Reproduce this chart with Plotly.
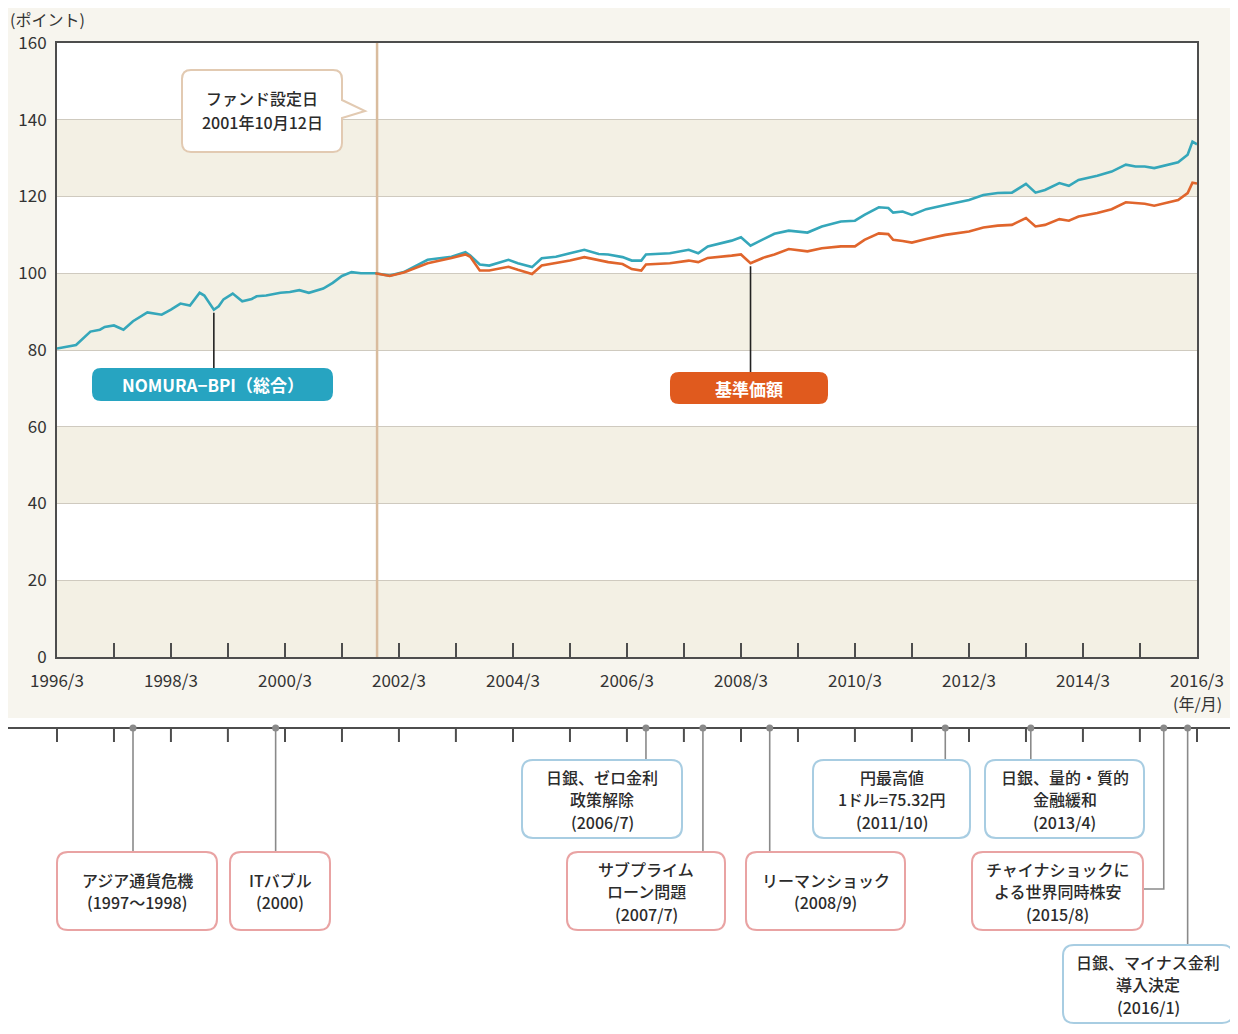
import plotly.graph_objects as go
import pandas as pd

# ---------------- data ----------------
bpi_dates = [
    "1996-03", "1996-06", "1996-07", "1996-10", "1996-12", "1997-01", "1997-03", "1997-05",
    "1997-07", "1997-10", "1998-01", "1998-03", "1998-05", "1998-07", "1998-09", "1998-10",
    "1998-12", "1999-01", "1999-02", "1999-04", "1999-06", "1999-08", "1999-09", "1999-11",
    "2000-02", "2000-04", "2000-06", "2000-08", "2000-11", "2001-01", "2001-03", "2001-05",
    "2001-07",
    "2001-10", "2002-01", "2002-04", "2002-09", "2003-02", "2003-05", "2003-06", "2003-08",
    "2003-10", "2004-02", "2004-04", "2004-07", "2004-09", "2004-12", "2005-03", "2005-06",
    "2005-09", "2005-11", "2006-02", "2006-04", "2006-06", "2006-07", "2006-12", "2007-04",
    "2007-06", "2007-08", "2008-01", "2008-03", "2008-05", "2008-08", "2008-10", "2009-01",
    "2009-05", "2009-08", "2009-12", "2010-03", "2010-05", "2010-08", "2010-10", "2010-11",
    "2011-01", "2011-03", "2011-06", "2011-10", "2012-03", "2012-06", "2012-09", "2012-12",
    "2013-03", "2013-05", "2013-07", "2013-10", "2013-12", "2014-02", "2014-06", "2014-09",
    "2014-12", "2015-02", "2015-04", "2015-06", "2015-09", "2015-11", "2016-01", "2016-02",
    "2016-03",
]
bpi_values = [
    80.4, 81.0, 81.3, 84.8, 85.3, 86.0, 86.4, 85.3,
    87.5, 89.8, 89.2, 90.5, 92.1, 91.6, 94.9, 94.2,
    90.5, 91.4, 93.2, 94.7, 92.7, 93.3, 94.0, 94.2,
    94.9, 95.1, 95.6, 94.9, 96.0, 97.5, 99.3, 100.3,
    100.0,
    100.0, 99.4, 100.3, 103.5, 104.3, 105.5, 104.6, 102.3,
    102.0, 103.5, 102.6, 101.6, 103.9, 104.3, 105.2, 106.1,
    105.0, 104.9, 104.2, 103.3, 103.3, 104.9, 105.2, 106.1,
    105.2, 107.0, 108.5, 109.4, 107.2, 109.0, 110.3, 111.1,
    110.6, 112.2, 113.5, 113.7, 115.2, 117.2, 117.0, 115.8,
    116.1, 115.2, 116.7, 117.8, 119.1, 120.4, 120.9, 121.0,
    123.3, 121.0, 121.7, 123.5, 122.8, 124.3, 125.4, 126.5,
    128.3, 127.8, 127.8, 127.4, 128.3, 128.9, 130.9, 134.3,
    133.6,
]
fund_dates = [
    "2001-10", "2002-01", "2002-04", "2002-09", "2003-02", "2003-05", "2003-06", "2003-08",
    "2003-10", "2004-02", "2004-04", "2004-07", "2004-09", "2004-12", "2005-03", "2005-06",
    "2005-09", "2005-11", "2006-02", "2006-04", "2006-06", "2006-07", "2006-12", "2007-04",
    "2007-06", "2007-08", "2008-01", "2008-03", "2008-05", "2008-08", "2008-10", "2009-01",
    "2009-05", "2009-08", "2009-12", "2010-03", "2010-05", "2010-08", "2010-10", "2010-11",
    "2011-01", "2011-03", "2011-06", "2011-10", "2012-03", "2012-06", "2012-09", "2012-12",
    "2013-03", "2013-05", "2013-07", "2013-10", "2013-12", "2014-02", "2014-06", "2014-09",
    "2014-12", "2015-02", "2015-04", "2015-06", "2015-09", "2015-11", "2016-01", "2016-02",
    "2016-03",
]
fund_values = [
    100.0, 99.3, 100.2, 102.6, 104.0, 104.9, 104.3, 100.7,
    100.7, 101.7, 100.9, 99.8, 102.0, 102.6, 103.3, 104.2,
    103.3, 102.9, 102.4, 101.1, 100.7, 102.3, 102.6, 103.3,
    102.9, 104.0, 104.6, 104.9, 102.6, 104.2, 104.9, 106.3,
    105.7, 106.5, 107.0, 107.0, 108.7, 110.4, 110.2, 108.7,
    108.4, 108.0, 108.9, 110.0, 110.9, 111.9, 112.4, 112.6,
    114.4, 112.2, 112.6, 114.1, 113.7, 114.8, 115.7, 116.7,
    118.5, 118.3, 118.1, 117.6, 118.4, 119.1, 120.9, 123.6,
    123.4,
]
bpi_name = "NOMURA−BPI（総合）"
fund_name = "基準価額"
bpi_label_date = "1998-12"
fund_label_date = "2008-05"
fund_start_date = "2001-10-12"
fund_start_lines = ["ファンド設定日", "2001年10月12日"]

y_tick_values = [0, 20, 40, 60, 80, 100, 120, 140, 160]
x_tick_dates = [f"{y}-03-01" for y in range(1996, 2017)]
x_tick_text = ["1996/3", "", "1998/3", "", "2000/3", "", "2002/3", "", "2004/3", "",
               "2006/3", "", "2008/3", "", "2010/3", "", "2012/3", "", "2014/3", "",
               "2016/3"]
x_unit = "(年/月)"
y_title = "(ポイント)"

event_dates = ["1997-07", "2000-01", "2006-07", "2007-07", "2008-09",
               "2011-10", "2013-04", "2015-08", "2016-01"]
event_texts = [
    ["アジア通貨危機", "(1997～1998)"],
    ["ITバブル", "(2000)"],
    ["日銀、ゼロ金利", "政策解除", "(2006/7)"],
    ["サブプライム", "ローン問題", "(2007/7)"],
    ["リーマンショック", "(2008/9)"],
    ["円最高値", "1ドル=75.32円", "(2011/10)"],
    ["日銀、量的・質的", "金融緩和", "(2013/4)"],
    ["チャイナショックに", "よる世界同時株安", "(2015/8)"],
    ["日銀、マイナス金利", "導入決定", "(2016/1)"],
]
event_kinds = ["risk", "risk", "policy", "risk", "risk", "policy", "policy", "risk", "policy"]

# ---------------- layout geometry (reference pixels) ----------------
OFF = 8                      # page body margin
W, H = 1238 - OFF, 1034 - OFF  # figure size
PX0, PX1, PY0, PY1 = 57, 1197, 43, 657
X_START, X_END, Y_MAX = "1996-03-01", "2016-03-01", 160
TL_Y = 728  # timeline y
LINE_GAP = 22.5
event_boxes = [  # x0, y0, x1, y1
    (57, 852, 217, 930), (230, 852, 330, 930), (522, 760, 682, 838),
    (567, 852, 725, 930), (746, 852, 905, 930), (813, 760, 970, 838),
    (985, 760, 1144, 838), (972, 852, 1143, 930), (1063, 945, 1233, 1023),
]

FONT = "Noto Sans CJK JP"
TEAL, ORANGE = "#35a7ba", "#e0652c"
TEAL_FILL, ORANGE_FILL = "#27a4c1", "#e05a1e"
BAND = "#f3f0e4"
PAPER_BEIGE = "#f7f5ee"
RISK_EDGE, POLICY_EDGE = "#e9a3a3", "#a8cde2"
CONN = "#8a8a8a"
AXIS = "#4d4d4d"

t0, t1 = pd.Timestamp(X_START), pd.Timestamp(X_END)


def fx(px):
    return (px - OFF) / W


def fy(py):
    return 1 - (py - OFF) / H


def date_px(d):
    return PX0 + (pd.Timestamp(d) - t0) / (t1 - t0) * (PX1 - PX0)


def val_py(v):
    return PY1 - v / Y_MAX * (PY1 - PY0)


def rpath(x0, y0, x1, y1, r=10, pointer=None):
    pts = [("M", (x0 + r, y0)), ("L", (x1 - r, y0)), ("Q", (x1, y0), (x1, y0 + r))]
    if pointer:
        ya, tip, yb = pointer
        pts += [("L", (x1, ya)), ("L", tip), ("L", (x1, yb))]
    pts += [("L", (x1, y1 - r)), ("Q", (x1, y1), (x1 - r, y1)),
            ("L", (x0 + r, y1)), ("Q", (x0, y1), (x0, y1 - r)),
            ("L", (x0, y0 + r)), ("Q", (x0, y0), (x0 + r, y0))]
    s = ""
    for item in pts:
        cmd = item[0]
        coords = " ".join(f"{fx(p[0]):.5f},{fy(p[1]):.5f}" for p in item[1:])
        s += f"{cmd}{coords} "
    return s + "Z"


annotations = []


def text_lines(lines, cx, cy, gap, size=16, color="#2b2b2b", weight=500):
    n = len(lines)
    for i, t in enumerate(lines):
        yy = cy + (i - (n - 1) / 2) * gap
        annotations.append(dict(xref="paper", yref="paper", x=fx(cx), y=fy(yy), text=t,
                                showarrow=False, xanchor="center", yanchor="middle",
                                font=dict(family=FONT, size=size, color=color, weight=weight)))


fig = go.Figure()
fig.add_trace(go.Scatter(x=bpi_dates, y=bpi_values, mode="lines", name=bpi_name,
                         line=dict(color=TEAL, width=2.6), showlegend=False))
fig.add_trace(go.Scatter(x=fund_dates, y=fund_values, mode="lines", name=fund_name,
                         line=dict(color=ORANGE, width=2.6), showlegend=False))

shapes = []
# backgrounds
shapes.append(dict(type="rect", xref="paper", yref="paper", x0=0, x1=1, y0=fy(718), y1=1,
                   fillcolor=PAPER_BEIGE, line=dict(width=0), layer="below"))
shapes.append(dict(type="rect", xref="paper", yref="paper", x0=fx(PX0), x1=fx(PX1),
                   y0=fy(PY1), y1=fy(PY0), fillcolor="white", line=dict(width=0), layer="below"))
for lo in range(0, Y_MAX, 40):
    shapes.append(dict(type="rect", xref="x domain", yref="y", x0=0, x1=1, y0=lo, y1=lo + 20,
                       fillcolor=BAND, line=dict(width=0), layer="below"))
# fund start line
shapes.append(dict(type="line", xref="x", yref="y", x0=fund_start_date, x1=fund_start_date,
                   y0=0, y1=Y_MAX, line=dict(color="#d9bc9e", width=2.5), layer="between"))

# series labels
bpi_dip = bpi_values[bpi_dates.index(bpi_label_date)]
fund_dip = fund_values[fund_dates.index(fund_label_date)]
label_boxes = [
    (bpi_label_date, bpi_dip, (92, 368, 333, 401), TEAL_FILL, bpi_name),
    (fund_label_date, fund_dip, (670, 372, 828, 404), ORANGE_FILL, fund_name),
]
for d, v, (bx0, by0, bx1, by1), col, txt in label_boxes:
    cx = date_px(d)
    shapes.append(dict(type="line", xref="paper", yref="paper", x0=fx(cx), x1=fx(cx),
                       y0=fy(val_py(v) + 3), y1=fy(by0), line=dict(color="#222", width=1.6)))
    shapes.append(dict(type="path", xref="paper", yref="paper", path=rpath(bx0, by0, bx1, by1, 9),
                       fillcolor=col, line=dict(width=0)))
    text_lines([txt], (bx0 + bx1) / 2, (by0 + by1) / 2, 0, size=17, color="white", weight=700)

# fund start callout
fs_px = date_px(fund_start_date)
shapes.append(dict(type="path", xref="paper", yref="paper",
                   path=rpath(182, 70, 342, 152, 9, pointer=(100, (fs_px - 12, 111), 118)),
                   fillcolor="white", line=dict(color="#e2cab2", width=2)))
text_lines(fund_start_lines, 262, 110, 24)

# y-axis title and x unit
annotations.append(dict(xref="paper", yref="paper", x=0, y=fy(19), text=y_title,
                        showarrow=False, xanchor="left", yanchor="middle",
                        font=dict(family=FONT, size=16, color="#333")))
annotations.append(dict(xref="paper", yref="paper", x=fx(PX1), y=fy(703), text=x_unit,
                        showarrow=False, xanchor="center", yanchor="middle",
                        font=dict(family=FONT, size=16, color="#333")))

# timeline
shapes.append(dict(type="line", xref="paper", yref="paper", x0=0, x1=1,
                   y0=fy(TL_Y), y1=fy(TL_Y), line=dict(color=AXIS, width=2)))
for d in x_tick_dates:
    px = date_px(d)
    shapes.append(dict(type="line", xref="paper", yref="paper", x0=fx(px), x1=fx(px),
                       y0=fy(TL_Y), y1=fy(TL_Y + 14), line=dict(color=AXIS, width=2)))

for d, lines, kind, (bx0, by0, bx1, by1) in zip(event_dates, event_texts, event_kinds, event_boxes):
    px = date_px(d)
    if px < bx1:
        shapes.append(dict(type="line", xref="paper", yref="paper", x0=fx(px), x1=fx(px),
                           y0=fy(TL_Y), y1=fy(by0), line=dict(color=CONN, width=1.6)))
    else:
        ym = (by0 + by1) / 2 - 2
        shapes.append(dict(type="path", xref="paper", yref="paper",
                           path=f"M{fx(px):.5f},{fy(TL_Y):.5f} L{fx(px):.5f},{fy(ym):.5f} L{fx(bx1):.5f},{fy(ym):.5f}",
                           line=dict(color=CONN, width=1.6)))
    shapes.append(dict(type="circle", xref="paper", yref="paper", xsizemode="pixel", ysizemode="pixel",
                       xanchor=fx(px), yanchor=fy(TL_Y), x0=-3.5, x1=3.5, y0=-3.5, y1=3.5,
                       fillcolor=CONN, line=dict(width=0)))
    edge = RISK_EDGE if kind == "risk" else POLICY_EDGE
    shapes.append(dict(type="path", xref="paper", yref="paper", path=rpath(bx0, by0, bx1, by1, 11),
                       fillcolor="white", line=dict(color=edge, width=2)))
    text_lines(lines, (bx0 + bx1) / 2, (by0 + by1) / 2, LINE_GAP)

fig.update_layout(
    width=W, height=H, margin=dict(l=0, r=0, t=0, b=0, autoexpand=False),
    paper_bgcolor="white", plot_bgcolor="rgba(0,0,0,0)",
    shapes=shapes, annotations=annotations, showlegend=False,
    font=dict(family=FONT, color="#333"),
    xaxis=dict(domain=[fx(PX0), fx(PX1)], type="date", range=[X_START, X_END], automargin=False,
               tickmode="array", tickvals=x_tick_dates, ticktext=x_tick_text,
               ticks="inside", ticklen=14, tickwidth=2, tickcolor=AXIS,
               showline=True, mirror=True, linecolor=AXIS, linewidth=2,
               showgrid=False, zeroline=False, ticklabelstandoff=8,
               tickfont=dict(family=FONT, size=17, color="#333")),
    yaxis=dict(domain=[fy(PY1), fy(PY0)], range=[0, Y_MAX], tickmode="array", automargin=False,
               tickvals=y_tick_values, ticks="", showline=True, mirror=True,
               linecolor=AXIS, linewidth=2, showgrid=True, gridcolor="#cfcabf",
               gridwidth=1.4, zeroline=False, ticklabelstandoff=5,
               tickfont=dict(family=FONT, size=17, color="#333")),
)

fig.write_html("out.html")
